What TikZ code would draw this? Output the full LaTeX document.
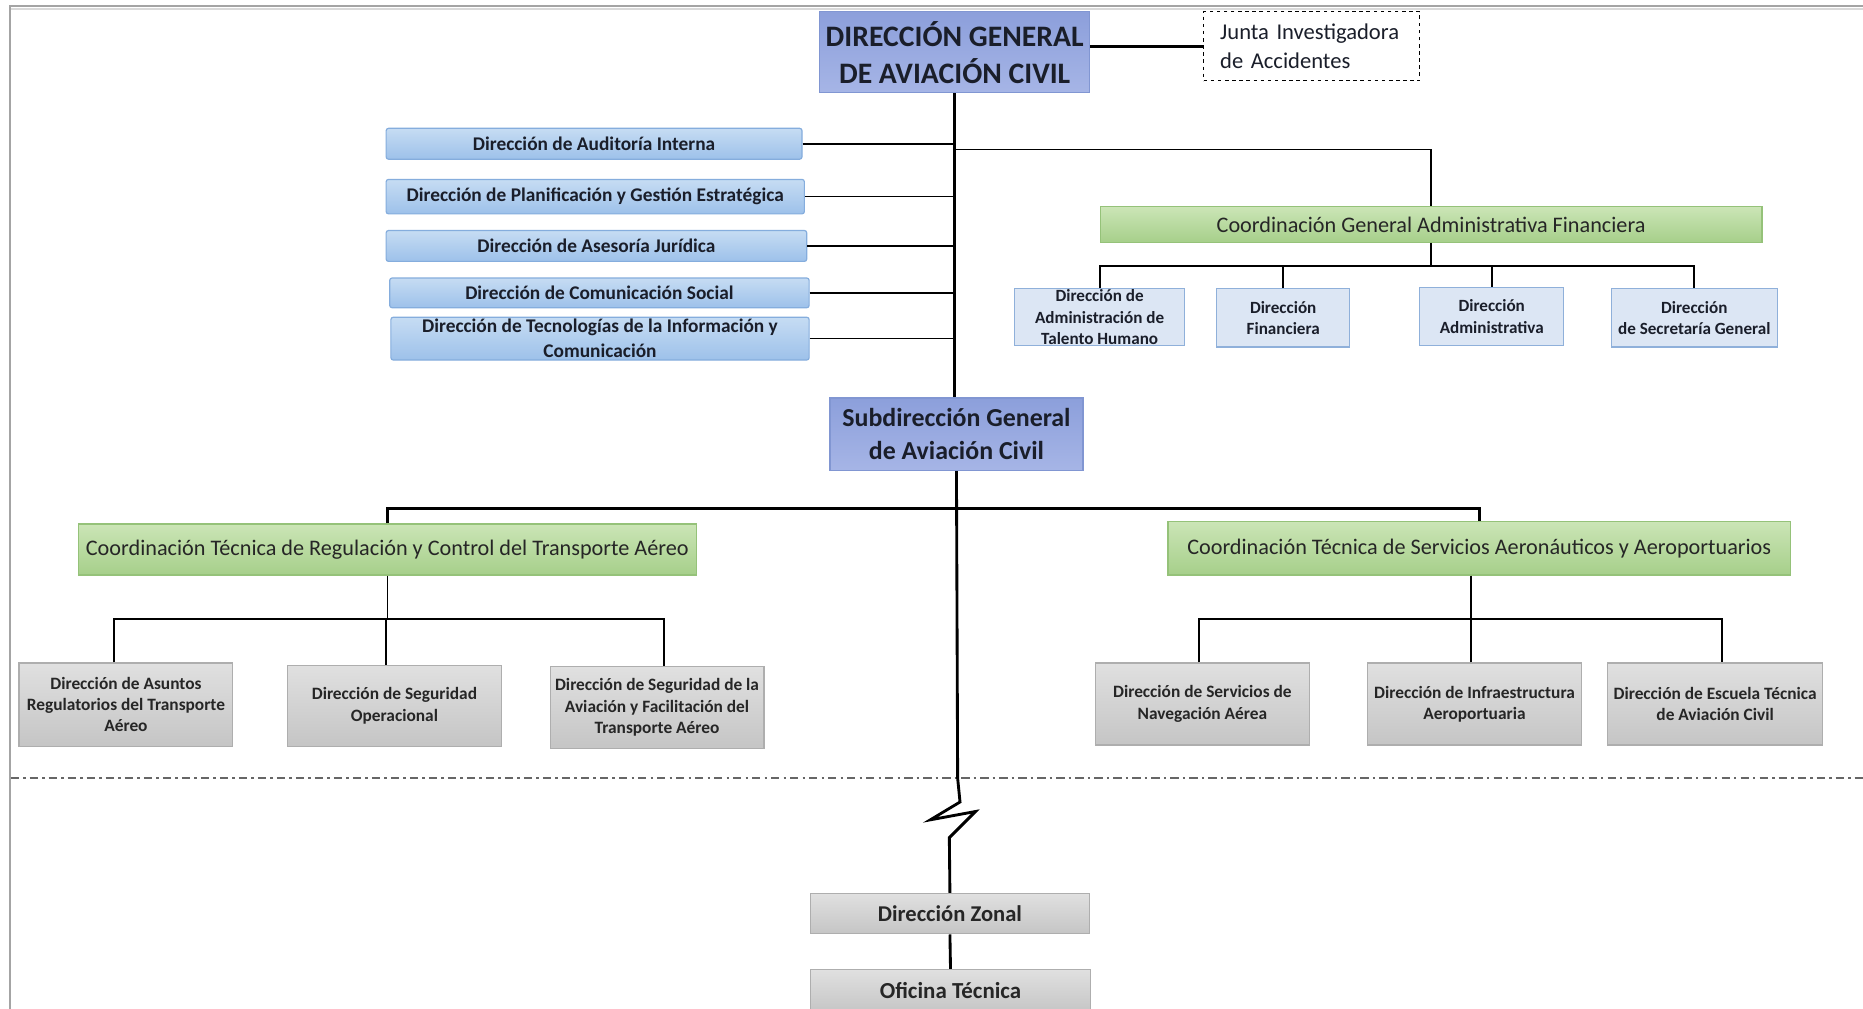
\documentclass[tikz,border=0pt]{standalone}
\usepackage{fontspec}
\setmainfont{Carlito}
\definecolor{txt}{HTML}{1A1E2A}
\definecolor{dgtop}{HTML}{8C9FDB}
\definecolor{dgbot}{HTML}{A6B5E6}
\definecolor{dgline}{HTML}{8196D2}
\definecolor{sbtop}{HTML}{C6DCF3}
\definecolor{sbbot}{HTML}{9DC1EA}
\definecolor{sbline}{HTML}{85ADDD}
\definecolor{grtop}{HTML}{CBE5B6}
\definecolor{grbot}{HTML}{A6CF8A}
\definecolor{grline}{HTML}{95C279}
\definecolor{lbfill}{HTML}{DCE6F4}
\definecolor{lbline}{HTML}{8FB0DA}
\definecolor{gytop}{HTML}{E0E0E0}
\definecolor{gybot}{HTML}{C5C5C5}
\definecolor{gyline}{HTML}{AEAEAE}
\definecolor{frame}{HTML}{A4A4A4}
\tikzset{
  base/.style={inner sep=0pt, align=center, text=txt},
  dgbox/.style={base, draw=dgline, line width=1pt, top color=dgtop, bottom color=dgbot},
  staffbox/.style={base, draw=sbline, line width=1pt, top color=sbtop, bottom color=sbbot, rounded corners=2pt,
     font=\fontsize{16.3}{21}\selectfont\bfseries},
  greenbox/.style={base, draw=grline, line width=1pt, top color=grtop, bottom color=grbot,
     font=\fontsize{18.7}{22}\selectfont, text=black!85},
  lightbox/.style={base, draw=lbline, line width=1pt, fill=lbfill,
     font=\fontsize{14.4}{18}\selectfont\bfseries},
  graybox/.style={base, draw=gyline, line width=1pt, top color=gytop, bottom color=gybot,
     font=\fontsize{14.6}{18}\selectfont\bfseries, text=black!85},
  thickline/.style={line width=2.4pt, black},
  midline/.style={line width=1.8pt, black},
  thinline/.style={line width=1.3pt, black},
}
\begin{document}
\begin{tikzpicture}[x=1pt,y=-1pt]
\useasboundingbox (0,0) rectangle (1568,849);
\clip (0,0) rectangle (1568,849);
\fill[white] (0,0) rectangle (1568,849);
% frame
\draw[frame, line width=2pt] (8.5,849) -- (8.5,5) -- (1568,5);
\draw[black!15, line width=1.2pt] (9.5,7.5) -- (1568,7.5);

% top
\node[dgbox, minimum width=227pt, minimum height=68pt, font=\fontsize{25}{31}\selectfont\bfseries] (dg) at (803.5,44)
  {DIRECCIÓN GENERAL\\DE AVIACIÓN CIVIL};
\node[base, draw=black, dashed, line width=1pt, minimum height=58pt, text width=154pt, inner xsep=14pt,
  align=left, font=\fontsize{19}{24}\selectfont] (junta) at (1104,39)
  {Junta Investigadora\\de Accidentes};

% staff
\node[staffbox, minimum width=350pt, minimum height=26pt] (aud) at (500,121) {Dirección de Auditoría Interna};
\node[staffbox, minimum width=352pt, minimum height=29pt] (plan) at (501,165.5) {Dirección de Planificación y Gestión Estratégica};
\node[staffbox, minimum width=354pt, minimum height=26pt] (jur) at (502,207) {Dirección de Asesoría Jurídica};
\node[staffbox, minimum width=353pt, minimum height=25pt] (com) at (504.5,246.5) {Dirección de Comunicación Social};
\node[staffbox, minimum width=352pt, minimum height=36pt] (tec) at (505,285) {Dirección de Tecnologías de la Información y\\Comunicación};

% CGAF
\node[greenbox, minimum width=557pt, minimum height=30pt] (cgaf) at (1204.5,189) {Coordinación General Administrativa Financiera};
\node[lightbox, minimum width=143pt, minimum height=48pt] (f1) at (925.5,267) {Dirección de\\Administración de\\Talento Humano};
\node[lightbox, minimum width=112pt, minimum height=49pt] (f2) at (1080,267.5) {Dirección\\Financiera};
\node[lightbox, minimum width=121pt, minimum height=49pt] (f3) at (1255.5,266.5) {Dirección\\Administrativa};
\node[lightbox, minimum width=140pt, minimum height=49pt] (f4) at (1426,267.5) {Dirección\\de Secretaría General};

% sub
\node[dgbox, minimum width=213pt, minimum height=61pt, font=\fontsize{21.8}{28}\selectfont\bfseries] (sub) at (805,365.5)
  {Subdirección General\\de Aviación Civil};

% CT
\node[greenbox, minimum width=520pt, minimum height=43pt] (ctl) at (326,462.5) {Coordinación Técnica de Regulación y Control del Transporte Aéreo};
\node[greenbox, minimum width=524pt, minimum height=45pt] (ctr) at (1245,461.5) {Coordinación Técnica de Servicios Aeronáuticos y Aeroportuarios};

\node[graybox, minimum width=180pt, minimum height=70pt] (g1) at (106,593) {Dirección de Asuntos\\Regulatorios del Transporte\\Aéreo};
\node[graybox, minimum width=180pt, minimum height=68pt] (g2) at (332,594) {Dirección de Seguridad\\Operacional};
\node[graybox, minimum width=180pt, minimum height=69pt] (g3) at (553,595.5) {Dirección de Seguridad de la\\Aviación y Facilitación del\\Transporte Aéreo};
\node[graybox, minimum width=180pt, minimum height=69pt] (g4) at (1012,592.5) {Dirección de Servicios de\\Navegación Aérea};
\node[graybox, minimum width=180pt, minimum height=69pt] (g5) at (1241,592.5) {Dirección de Infraestructura\\Aeroportuaria};
\node[graybox, minimum width=181pt, minimum height=69pt] (g6) at (1443.5,592.5) {Dirección de Escuela Técnica\\de Aviación Civil};

% zonal
\node[graybox, minimum width=235pt, minimum height=34pt, font=\fontsize{19}{22}\selectfont\bfseries] (zonal) at (799.5,769) {Dirección Zonal};
\node[graybox, minimum width=236pt, minimum height=36pt, font=\fontsize{19.3}{22}\selectfont\bfseries] (ofi) at (800,834) {Oficina Técnica};

% coordinates
\coordinate (j1) at (803.5,126);
\coordinate (cbar) at (1204.5,224);
\coordinate (sbar) at (804,428);
\coordinate (lbar) at (325,521);
\coordinate (rbar) at (1238,521);
\coordinate (v1) at (806,655);
\coordinate (z1) at (808,675);
\coordinate (z2) at (783,690);
\coordinate (z3) at (821,683);
\coordinate (z4) at (799,705);
\coordinate (dl) at (9,655);
\coordinate (dr) at (1568,655);

% dash-dot separator
\draw[black!60, line width=1.4pt, dash pattern=on 7pt off 3.5pt on 2pt off 3.5pt] (dl) -- (dr);

% connectors
\draw[thickline] (junta.west) -- (junta.west -| dg.east);
\draw[thickline] (dg.south) -- (dg.south |- sub.north);
\draw[thinline] (aud.east) -- (aud.east -| dg.south);
\draw[thinline] (plan.east) -- (plan.east -| dg.south);
\draw[thinline] (jur.east) -- (jur.east -| dg.south);
\draw[thinline] (com.east) -- (com.east -| dg.south);
\draw[thinline] (tec.east) -- (tec.east -| dg.south);
\draw[thinline] (j1) -| (cgaf.north);
\draw[thinline] (cgaf.south) -- (cbar);
\draw[midline] (f1.north) -- (f1.north |- cbar) -- (f4.north |- cbar) -- (f4.north);
\draw[thinline] (f2.north) -- (f2.north |- cbar);
\draw[thinline] (f3.north) -- (f3.north |- cbar);

\draw[thickline] (ctl.north) -- (ctl.north |- sbar) -- (ctr.north |- sbar) -- (ctr.north);
\draw[thickline, line join=miter] (sub.south) -- (v1) -- (z1) -- (z2) -- (z3) -- (z4) -- (zonal.north);
\draw[thickline] (zonal.south) -- (ofi.north);

\draw[thinline] (ctl.south) -- (ctl.south |- lbar);
\draw[midline] ([xshift=-10pt]g1.north) -- ([xshift=-10pt]g1.north |- lbar) -- ([xshift=6pt]g3.north |- lbar) -- ([xshift=6pt]g3.north);
\draw[thinline] ([xshift=-7pt]g2.north) -- ([xshift=-7pt]g2.north |- lbar);

\draw[thinline] (rbar |- ctr.south) -- (rbar);
\draw[midline] ([xshift=-3pt]g4.north) -- ([xshift=-3pt]g4.north |- rbar) -- ([xshift=5.5pt]g6.north |- rbar) -- ([xshift=5.5pt]g6.north);
\draw[thinline] ([xshift=-3pt]g5.north) -- ([xshift=-3pt]g5.north |- rbar);
\end{tikzpicture}
\end{document}
